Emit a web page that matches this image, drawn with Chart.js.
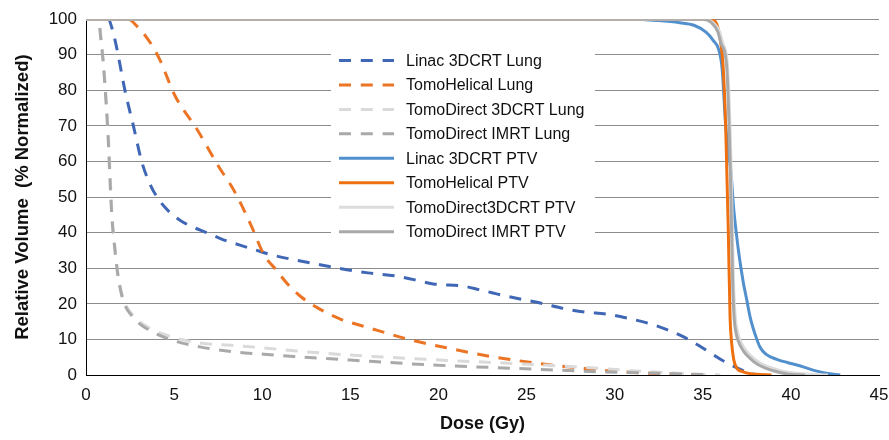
<!DOCTYPE html>
<html>
<head>
<meta charset="utf-8">
<script src="https://cdn.jsdelivr.net/npm/chart.js@4"></script>
<style>
  body { margin: 0; background: #fff; }
  #wrap { width: 889px; height: 440px; }
</style>
</head>
<body>
<div id="wrap"><canvas id="dvhChart" width="889" height="440"></canvas></div>
<script>
// dose axis (Gy) and relative volume (%)
const xTicks = [0, 5, 10, 15, 20, 25, 30, 35, 40, 45];
const yTicks = [0, 10, 20, 30, 40, 50, 60, 70, 80, 90, 100];

const seriesNames = [
  'Linac 3DCRT Lung', 'TomoHelical Lung', 'TomoDirect 3DCRT Lung', 'TomoDirect IMRT Lung',
  'Linac 3DCRT PTV', 'TomoHelical PTV', 'TomoDirect3DCRT PTV', 'TomoDirect IMRT PTV'
];

const linacLungDose = [0, 1.27, 1.5, 1.74, 2.21, 2.69, 3.16, 3.6, 4.1, 4.7, 5.33, 6.1, 6.85, 7.8, 8.74, 9.9, 10.5, 12, 13.5, 14.8, 16, 17.6, 18.6, 19.7, 21.4, 22.3, 23.3, 24.5, 25.9, 27.1, 28.3, 29.6, 30.8, 32, 33, 34, 35, 36.26, 37.7, 38.2];
const linacLungVol  = [100, 100, 97, 92, 80, 70, 60, 54, 49.5, 46, 43.5, 41.5, 40, 38, 36.5, 34.7, 33.8, 32.2, 30.8, 29.6, 28.7, 27.8, 26.8, 25.6, 25, 24, 22.8, 21.5, 20.1, 18.7, 17.7, 17.1, 15.9, 14.4, 12.7, 10.5, 7.6, 3.7, 0.5, 0];

const helicalLungDose = [0, 2.4, 2.88, 3.7, 4.2, 5.05, 6.28, 7.5, 8.45, 9.4, 10.1, 10.8, 11.4, 12.2, 13.1, 14.4, 16.1, 18.4, 20.7, 23.1, 25.8, 28.2, 30.5, 33, 35];
const helicalLungVol  = [100, 100, 98.1, 93, 88.5, 78.5, 69.2, 58.8, 51.4, 41.7, 33.8, 29.5, 25.8, 22, 19, 15.8, 13.2, 9.9, 7.4, 5.1, 3.2, 1.85, 0.9, 0.3, 0];

const direct3dLungDose = [0, 0.72, 0.87, 1.0, 1.16, 1.29, 1.38, 1.48, 1.67, 1.85, 2.15, 2.7, 3.6, 4.95, 6.47, 8.4, 9.9, 11.8, 15, 19.7, 24.4, 29.2, 32, 34.5, 36];
const direct3dLungVol  = [100, 100, 94, 87.5, 76.4, 65.3, 55, 45, 34.7, 27.3, 21, 16.6, 13.2, 10.6, 9.0, 8.3, 7.7, 6.8, 5.6, 4.3, 3.2, 1.85, 0.9, 0.3, 0];

const directImrtLungDose = [0, 0.7, 0.85, 0.98, 1.14, 1.27, 1.36, 1.46, 1.65, 1.83, 2.12, 2.68, 3.63, 4.95, 6.47, 8.36, 9.9, 11.8, 15, 19.7, 24.4, 29.2, 33.9, 35.5];
const directImrtLungVol  = [100, 100, 94, 87.5, 76.4, 65.3, 55, 45, 34.7, 27.3, 20.8, 16.2, 12.5, 9.7, 7.9, 6.5, 5.9, 5.2, 4.2, 2.8, 1.85, 0.9, 0.3, 0];

const linacPtvDose = [0, 31, 32.5, 33.7, 34.5, 35.2, 35.6, 35.9, 36.1, 36.3, 36.45, 36.6, 36.75, 36.9, 37.05, 37.3, 37.5, 37.7, 38.0, 38.25, 38.6, 39.2, 39.8, 40.5, 41.3, 42.0, 42.8];
const linacPtvVol  = [100, 100, 99.6, 99, 98.3, 96.3, 94, 91.5, 86, 70, 63, 57, 47, 40, 34, 26, 21, 16, 11, 7.8, 5.8, 4.4, 3.5, 2.6, 1.3, 0.5, 0];

const helicalPtvDose = [0, 35.5, 35.8, 36.0, 36.15, 36.3, 36.45, 36.55, 36.62, 36.75, 36.9, 37.3, 38.0, 38.9];
const helicalPtvVol  = [100, 100, 98.5, 94, 87, 70, 40, 16, 10, 4.5, 2.2, 0.9, 0.2, 0];

const direct3dPtvDose = [0, 35.1, 35.6, 35.95, 36.15, 36.4, 36.6, 36.75, 36.85, 36.95, 37.1, 37.4, 37.8, 38.3, 38.9, 39.6, 40.5, 41.5, 42.1];
const direct3dPtvVol  = [100, 100, 99, 96.5, 93, 87, 60, 25, 16, 12.5, 10, 7.2, 5, 3.2, 2, 1, 0.4, 0.1, 0];

const directImrtPtvDose = [0, 35.0, 35.5, 35.85, 36.05, 36.35, 36.55, 36.7, 36.78, 36.88, 37.0, 37.3, 37.7, 38.1, 38.6, 39.2, 39.8, 40.8];
const directImrtPtvVol  = [100, 100, 99, 96.5, 93, 87, 60, 25, 16, 12, 9.7, 6.8, 4.6, 3, 1.85, 0.9, 0.3, 0];

const doses = [linacLungDose, helicalLungDose, direct3dLungDose, directImrtLungDose, linacPtvDose, helicalPtvDose, direct3dPtvDose, directImrtPtvDose];
const vols = [linacLungVol, helicalLungVol, direct3dLungVol, directImrtLungVol, linacPtvVol, helicalPtvVol, direct3dPtvVol, directImrtPtvVol];
const colors = ['#3F67B5', '#EC7425', '#DADADA', '#A9A9A9', '#5190CC', '#EE7010', '#DCDCDC', '#A9A9A9'];
const dashed = [true, true, true, true, false, false, false, false];

const FONT = '"Liberation Sans", Arial, sans-serif';

const datasets = seriesNames.map((name, i) => ({
  label: name,
  data: doses[i].map((d, k) => ({x: d, y: vols[i][k]})),
  borderColor: colors[i],
  backgroundColor: colors[i],
  borderWidth: 3,
  borderDash: dashed[i] ? [12, 9.5] : [],
  pointRadius: 0,
  fill: false,
  cubicInterpolationMode: 'monotone',
  order: seriesNames.length - i   // later series drawn on top, like the original
}));

// legend drawn inside the plot area on a white box
const innerLegend = {
  id: 'innerLegend',
  afterDatasetsDraw(chart) {
    const ctx = chart.ctx;
    ctx.save();
    ctx.fillStyle = '#fff';
    ctx.fillRect(331, 38, 264, 210);
    chart.data.datasets.forEach((ds, i) => {
      const y = 60.5 + i * 24.45;
      ctx.beginPath();
      ctx.strokeStyle = ds.borderColor;
      ctx.lineWidth = 3;
      ctx.setLineDash(ds.borderDash.length ? [12, 9.8] : []);
      ctx.moveTo(339, y);
      ctx.lineTo(394, y);
      ctx.stroke();
      ctx.setLineDash([]);
      ctx.fillStyle = '#111';
      ctx.font = '16px ' + FONT;
      ctx.textBaseline = 'middle';
      ctx.fillText(ds.label, 406, y + 1);
    });
    ctx.restore();
  }
};

new Chart(document.getElementById('dvhChart'), {
  type: 'line',
  data: { datasets },
  plugins: [innerLegend],
  options: {
    responsive: false,
    animation: false,
    layout: { padding: { top: 15, right: 0, left: 0, bottom: 0 } },
    plugins: { legend: { display: false }, tooltip: { enabled: false } },
    scales: {
      x: {
        type: 'linear',
        min: 0, max: 45,
        afterFit: s => { s.height = 65; s.paddingRight = 10; s.paddingLeft = 0; },
        afterBuildTicks: s => { s.ticks = xTicks.map(v => ({value: v})); },
        grid: { display: false, drawTicks: false },
        border: { color: '#000', width: 1 },
        ticks: { padding: 10, color: '#111', font: { family: FONT, size: 17 } },
        title: { display: true, text: 'Dose (Gy)', color: '#111', padding: { top: 0, bottom: 5 }, font: { family: FONT, size: 18, weight: 'bold' } }
      },
      y: {
        min: 0, max: 100,
        afterFit: s => { s.width = 86; },
        afterBuildTicks: s => { s.ticks = yTicks.map(v => ({value: v})); },
        grid: { color: '#8c8c8c', lineWidth: 1, drawTicks: false },
        border: { color: '#000', width: 1 },
        ticks: { padding: 9, color: '#111', font: { family: FONT, size: 17 } },
        title: { display: true, text: 'Relative Volume  (% Normalized)', color: '#111', padding: { top: 12, bottom: 0 }, font: { family: FONT, size: 18.5, weight: 'bold' } }
      }
    }
  }
});
</script>
</body>
</html>
